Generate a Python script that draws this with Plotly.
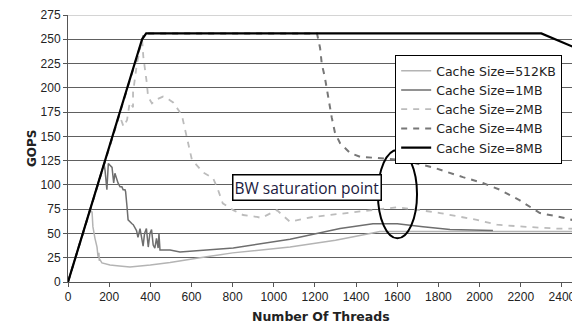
import plotly.graph_objects as go

# ---- data ----
x_512k = [0, 107, 117, 121, 131, 141, 146, 150, 152, 155, 165, 204, 250, 301, 400, 496, 641, 800, 1079, 1300, 1468, 1515, 1700, 2000, 2300, 2488]
y_512k = [0, 74, 72, 57, 45, 36, 26, 30, 22, 23, 19.6, 17.5, 16.5, 15.5, 17.5, 20, 25, 30, 36, 43, 50, 52, 52, 52, 52, 52]

x_1m = [0, 175, 180, 185, 189, 196, 204, 214, 222, 228, 243, 253, 262, 268, 277, 280, 287, 292, 311, 317, 333, 340, 350, 365, 372, 381, 390, 398, 406, 414, 422, 430, 438, 442, 447, 496, 544, 600, 641, 803, 1079, 1322, 1482, 1600, 1725, 1856, 2065]
y_1m = [0, 122, 115, 97, 95, 122, 120, 118, 102, 112, 102, 98, 98, 95, 95, 93, 77, 64, 60, 59, 53, 46, 55, 37, 50, 55, 36, 50, 54, 38, 35, 45, 35, 50, 33, 33, 31, 32, 32, 35, 44, 55, 60, 60, 57, 54, 53]

x_2m = [0, 230, 250, 270, 287, 300, 316, 316, 326, 335, 350, 360, 366, 374, 383, 389, 408, 430, 462, 490, 511, 553, 569, 583, 602, 656, 705, 729, 752, 803, 851, 918, 940, 1015, 1079, 1190, 1273, 1404, 1599, 1710, 1808, 1987, 2085, 2211, 2376, 2488]
y_2m = [0, 160, 172, 160, 167, 185, 180, 195, 210, 225, 240, 250, 232, 220, 205, 191, 184, 188, 191, 188, 185, 172, 158, 143, 126, 113, 107, 95, 81, 74, 69, 67, 66, 74, 62, 67, 69, 72, 77, 74, 71, 64, 59, 57, 55, 55]

x_4m = [0, 370, 1200, 1210, 1225, 1233, 1248, 1258, 1273, 1282, 1297, 1322, 1370, 1419, 1613, 1774, 1919, 2016, 2099, 2196, 2293, 2390, 2488]
y_4m = [0, 256, 256, 256, 241, 225, 211, 198, 182, 169, 154, 143, 133, 129, 126, 118, 108, 102, 95, 84, 71, 67, 62]

x_8m = [0, 360, 380, 2300, 2490]
y_8m = [0, 250, 256, 256, 239]

series_names = ["Cache Size=512KB", "Cache Size=1MB", "Cache Size=2MB", "Cache Size=4MB", "Cache Size=8MB"]
x_ticks = [0, 200, 400, 600, 800, 1000, 1200, 1400, 1600, 1800, 2000, 2200, 2400]
y_ticks = [0, 25, 50, 75, 100, 125, 150, 175, 200, 225, 250, 275]

# ---- figure ----
styles = [
    dict(color="#b4b4b4", width=1.5, dash="solid"),
    dict(color="#6e6e6e", width=1.5, dash="solid"),
    dict(color="#bcbcbc", width=1.8, dash="6px,6px"),
    dict(color="#777777", width=2, dash="6px,6px"),
    dict(color="#000000", width=2.2, dash="solid"),
]
xs = [x_512k, x_1m, x_2m, x_4m, x_8m]
ys = [y_512k, y_1m, y_2m, y_4m, y_8m]

fig = go.Figure()
for name, x, y, st in zip(series_names, xs, ys, styles):
    fig.add_trace(go.Scatter(x=x, y=y, mode="lines", name=name, line=st))

font_family = "Liberation Sans, Arial, sans-serif"
wide_family = "DejaVu Sans, sans-serif"

# The page body has an 8px margin, so the figure is drawn 8px in from the top-left.
fig.update_layout(
    width=572, height=319,
    margin=dict(l=60, r=0, t=7, b=45),
    paper_bgcolor="white", plot_bgcolor="white",
    font=dict(family=font_family, size=11, color="#222222"),
    showlegend=True,
    legend=dict(
        x=0.639, y=0.85, xanchor="left", yanchor="top",
        bordercolor="black", borderwidth=1, bgcolor="white",
        font=dict(family=wide_family, size=12.5, color="#222222"),
        tracegroupgap=0, itemwidth=30,
    ),
    xaxis=dict(
        range=[0, 2488], tickvals=x_ticks, ticktext=[str(v) for v in x_ticks],
        showgrid=False, zeroline=False, automargin=False,
        showline=True, linecolor="#555555", linewidth=1,
        ticks="outside", ticklen=4, tickcolor="#555555",
        tickfont=dict(family=font_family, size=12, color="#222222"),
    ),
    yaxis=dict(
        range=[0, 275], tickvals=y_ticks, ticktext=[str(v) for v in y_ticks],
        showgrid=True, gridcolor="#606060", gridwidth=1, zeroline=False, automargin=False,
        showline=True, linecolor="#555555", linewidth=1,
        ticks="outside", ticklen=4, tickcolor="#555555",
        tickfont=dict(family=font_family, size=12, color="#222222"),
    ),
)

# top border line (lighter) at 275
fig.add_shape(type="line", xref="paper", yref="y", x0=0, x1=1, y0=275, y1=275,
              line=dict(color="#aaaaaa", width=1), layer="above")

# ellipse marking the saturation point
fig.add_shape(type="circle", xref="x", yref="y", x0=1506, x1=1696, y0=45, y1=136,
              line=dict(color="black", width=2), layer="above")

# annotation box
fig.add_annotation(x=1161, y=97.3, xref="x", yref="y", text="BW saturation point",
                   showarrow=False, bgcolor="white", bordercolor="black", borderwidth=1.5,
                   borderpad=1,
                   font=dict(family="Open Sans, sans-serif", size=15.5, color="#1a1a40"))

# axis titles
fig.add_annotation(x=(32 - 68) / 512, y=(282 - 148) / 267, xref="paper", yref="paper",
                   xanchor="center", yanchor="middle",
                   text="<b>GOPS</b>", showarrow=False, textangle=-90,
                   font=dict(family=wide_family, size=12, color="#222222"))
fig.add_annotation(xref="paper", yref="paper", x=(321 - 68) / 512, y=(282 - 316) / 267,
                   xanchor="center", yanchor="middle",
                   text="<b>Number Of Threads</b>", showarrow=False,
                   font=dict(family=wide_family, size=12.5, color="#222222"))

fig.write_html("out.html")
